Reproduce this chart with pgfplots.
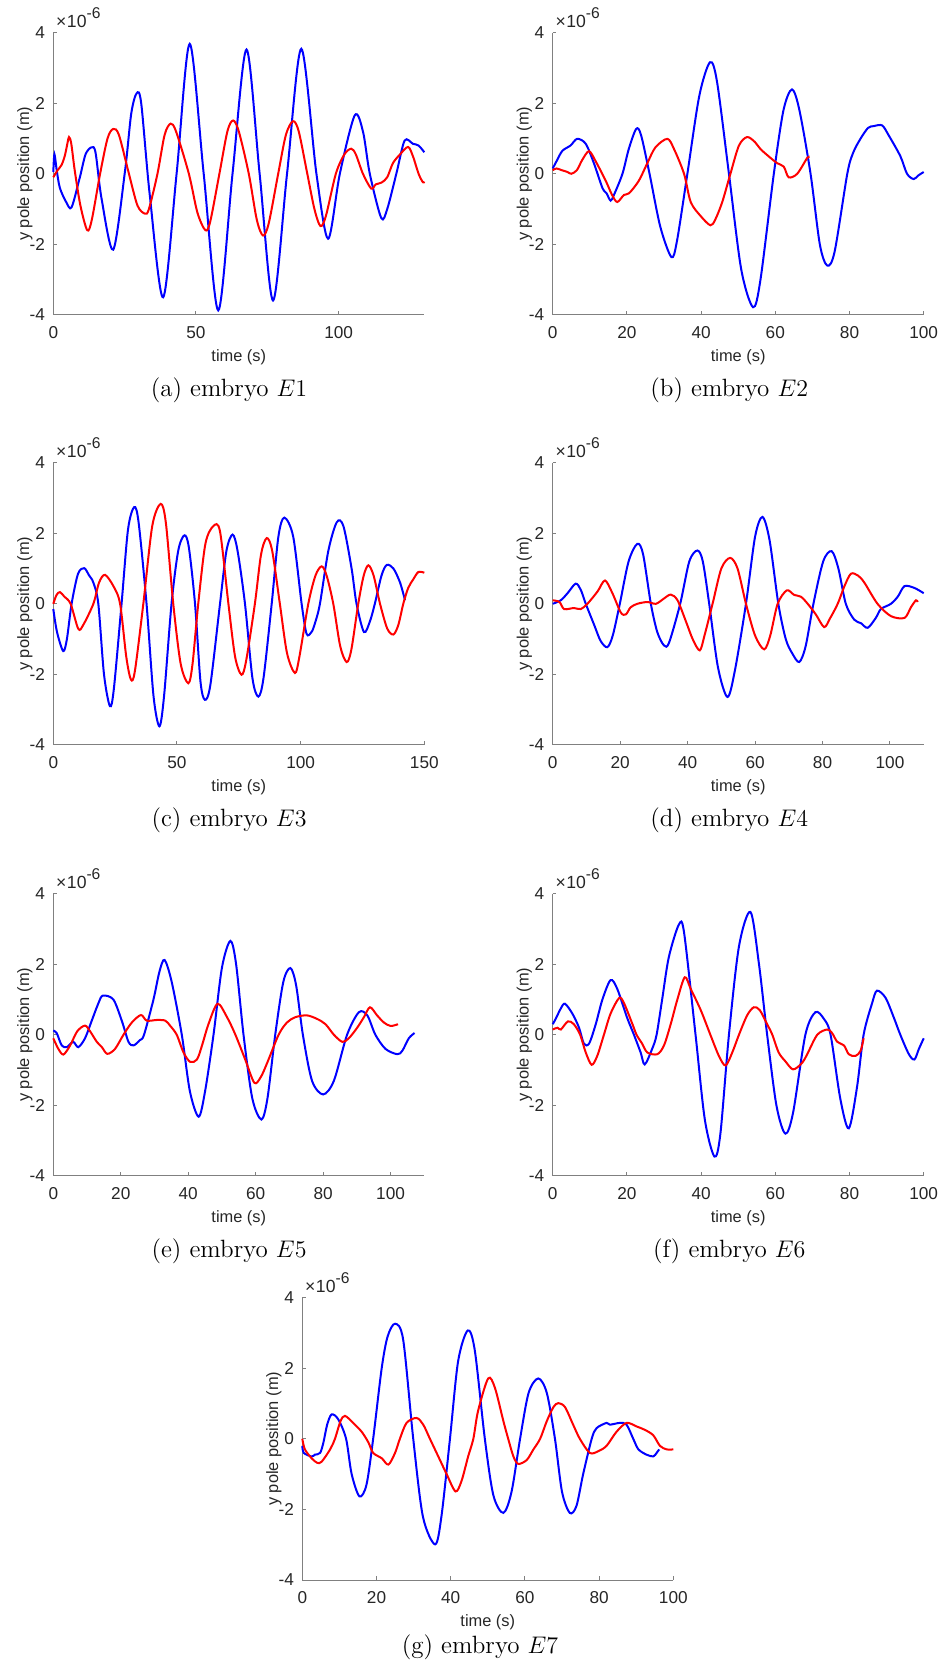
\documentclass[border=0pt]{standalone}
\usepackage{fontspec}
\newfontfamily\helv{Liberation Sans}
\usepackage{pgfplots}
\pgfplotsset{compat=1.18}

\pgfplotsset{
  panel/.style={
    scale only axis, width=185.5pt, height=141.2pt,
    axis x line=bottom, axis y line=left,
    axis line style={-, black!50, line width=0.5pt},
    xmin=0, ymin=-4, ymax=4,
    ytick={-4,-2,0,2,4}, yticklabels={-4,-2,0,2,4},
    tick align=inside,
    major tick length=1.85pt,
    minor tick num=0,
    major tick style={black!50, line width=0.5pt},
    tick label style={font=\helv\fontsize{8.6}{10}\selectfont, text=black!85},
    xticklabel style={yshift=-2.2pt},
    yticklabel style={xshift=-0.7pt},
    xlabel={time (s)}, ylabel={y pole position (m)},
    every axis x label/.style={at={(axis description cs:0.5,-0.148)}, anchor=center, font=\helv\fontsize{8.2}{10}\selectfont, text=black!85},
    every axis y label/.style={at={(axis description cs:-0.0765,0.5)}, anchor=center, rotate=90, font=\helv\fontsize{8.2}{10}\selectfont, text=black!85},
    clip=false,
    every axis plot/.append style={line width=1pt, smooth, tension=0.5},
  },
}
\newcommand{\expolabel}{\node[anchor=base west, inner sep=0pt, xshift=1.2pt, yshift=2.5pt, font=\helv\fontsize{8.8}{10}\selectfont, text=black!85] at (rel axis cs:0,1) {×\kern0.3pt10\raisebox{4.4pt}{\fontsize{7.8}{9}\selectfont -6}};}

\begin{document}
\begin{tikzpicture}
\useasboundingbox (0,0) rectangle (472pt,834pt);

% (a)
\begin{axis}[panel, at={(26.65pt,676.5pt)}, anchor=south west, xmax=130,
  xtick={0,50,100}, xticklabels={0,50,100}]
\addplot[blue] coordinates {(0,0.05) (0.4,0.55) (1.2,0.1) (2.3,-0.4) (4.5,-0.8) (6.4,-0.95) (9.3,-0.1) (11.3,0.55) (13.4,0.75) (14.8,0.6) (16.9,-0.7) (21,-2.15) (25.1,0.06) (27.3,1.7) (29.2,2.28) (30.8,2.0) (33.8,-0.6) (38.5,-3.5) (43.2,0) (47.8,3.68) (52.7,0) (57.8,-3.87) (62.8,0) (67.7,3.52) (72.3,0) (77,-3.59) (81.9,0) (86.9,3.54) (92.2,0) (96.3,-1.84) (100.4,0) (105.6,1.65) (108.5,1.2) (110.9,0) (114.9,-1.25) (117,-1.0) (120.2,0) (123.1,0.94) (126,0.85) (128,0.8) (130,0.61)};
\addplot[red] coordinates {(0,-0.1) (1.5,0.1) (2.9,0.25) (4,0.5) (4.8,0.8) (5.5,1.04) (6.3,0.85) (7.5,0.1) (9.5,-0.9) (11.9,-1.6) (13.5,-1.3) (16.4,0) (19,1.0) (21,1.27) (23,1.1) (26.5,0) (29.5,-0.9) (32.1,-1.13) (33.5,-1.0) (36.5,0) (39,1.1) (41.1,1.42) (43,1.2) (47.5,0) (50.5,-1.1) (53.3,-1.6) (55,-1.35) (58.2,0) (61,1.2) (63,1.51) (65,1.2) (68.5,0) (71.3,-1.3) (73.5,-1.75) (75.5,-1.4) (78.8,0) (81.5,1.1) (84,1.49) (86,1.2) (89,0) (91.5,-1.0) (93.6,-1.48) (95.5,-1.2) (99,0) (102,0.55) (104.4,0.71) (106,0.55) (108.5,0) (111.4,-0.42) (113,-0.3) (115,-0.25) (117,-0.1) (119,0.3) (121.5,0.55) (124.3,0.76) (126,0.5) (128,0.0) (129.5,-0.24) (130,-0.22)};
\expolabel
\end{axis}

% (b)
\begin{axis}[panel, at={(276.35pt,676.5pt)}, anchor=south west, xmax=100,
  xtick={0,20,40,60,80,100}, xticklabels={0,20,40,60,80,100}]
\addplot[blue] coordinates {(0,0.15) (1,0.35) (2.6,0.65) (4.8,0.8) (6.6,0.99) (8.9,0.85) (11.1,0.3) (13.4,-0.4) (14.5,-0.55) (15.6,-0.76) (16.5,-0.6) (18.8,0) (20.5,0.7) (22.5,1.27) (23.8,1.1) (26.1,0) (29,-1.5) (32,-2.36) (33.5,-1.9) (36.3,0) (39.5,2.2) (42.4,3.16) (44.3,2.6) (47.5,0) (50.8,-2.7) (54,-3.78) (56,-3.0) (59.6,0) (62.2,1.8) (64.5,2.39) (66.5,1.8) (69.5,0) (72,-2.0) (74,-2.6) (76,-2.2) (79.4,0) (81,0.6) (83,1.0) (85,1.3) (86.5,1.35) (88.8,1.37) (90.5,1.1) (93.7,0.5) (95.5,0) (97.3,-0.15) (98.5,-0.05) (100,0.05)};
\addplot[red] coordinates {(0,0.1) (1,0.15) (2.5,0.1) (4,0.05) (5,0.0) (6.5,0.1) (8,0.4) (9.8,0.64) (11.6,0.35) (14.3,-0.2) (16,-0.6) (17.4,-0.8) (19.2,-0.6) (20.6,-0.55) (23.2,-0.2) (25.5,0.3) (27.7,0.75) (30.9,0.99) (32.7,0.7) (35.4,0) (37.2,-0.8) (39.9,-1.2) (42.5,-1.46) (43.8,-1.3) (45.7,-0.8) (47.9,0) (50.2,0.8) (52.4,1.04) (54.5,0.9) (56,0.7) (58.7,0.45) (60.5,0.3) (62.3,0.2) (63.6,-0.1) (65.9,0.0) (68.6,0.45) (69,0.45)};
\expolabel
\end{axis}

% (c)
\begin{axis}[panel, at={(26.65pt,461.5pt)}, anchor=south west, xmax=150,
  xtick={0,50,100,150}, xticklabels={0,50,100,150}]
\addplot[blue] coordinates {(0,-0.15) (1.5,-0.8) (4,-1.34) (5.5,-1.0) (7.4,0) (10,0.85) (12.5,1.01) (14.5,0.8) (16.2,0.6) (18.2,0) (20.5,-2.0) (22.9,-2.9) (24.5,-2.4) (27.6,0) (30.2,2.1) (32.7,2.74) (34.5,2.3) (37.7,0) (40.5,-2.6) (42.9,-3.47) (44.8,-2.6) (47.8,0) (50.5,1.5) (53,1.94) (54.8,1.6) (57.3,0) (59.5,-2.2) (61.3,-2.72) (63.5,-2.3) (67.4,0) (70,1.5) (72.5,1.96) (74.5,1.5) (77.5,0) (80.5,-2.1) (82.9,-2.63) (85,-2.1) (88.3,0) (91,1.9) (93.4,2.44) (97,1.9) (100.4,0) (102.4,-0.85) (104.4,-0.8) (105.8,-0.55) (107.8,0) (111.2,1.5) (114.6,2.31) (117.3,2.2) (120.6,1.0) (122.6,0) (125.6,-0.8) (128,-0.5) (130,0) (132.7,0.8) (134.8,1.1) (137.5,1.0) (140.2,0.6) (142.2,0.1)};
\addplot[red] coordinates {(0,0) (1.3,0.25) (2.7,0.33) (4.5,0.2) (7,0) (10.1,-0.71) (12.1,-0.6) (16.2,0) (18.5,0.6) (20.9,0.82) (24.3,0.5) (27,0) (29.5,-1.5) (31.4,-2.15) (33,-1.9) (36.4,0) (40,2.2) (43.4,2.83) (45.5,2.3) (48.5,0) (51.5,-1.7) (54.6,-2.25) (56.3,-1.7) (58.6,0) (61.5,1.7) (64.7,2.2) (67.4,2.05) (70.8,0) (73.5,-1.5) (76.1,-2.01) (78,-1.6) (81.5,0) (84,1.4) (86.3,1.86) (88.5,1.5) (91.6,0) (94.5,-1.4) (97.7,-1.96) (99.5,-1.5) (103.1,0) (106,0.8) (108.5,1.06) (110.5,0.8) (113.2,0) (116,-1.2) (118.6,-1.65) (120.5,-1.3) (123.3,0) (125.5,0.8) (127.4,1.09) (129.5,0.8) (132.1,0) (135,-0.7) (137.5,-0.87) (139.5,-0.6) (141.5,0) (143.5,0.45) (145.6,0.7) (147.6,0.9) (150,0.88)};
\expolabel
\end{axis}

% (d)
\begin{axis}[panel, at={(276.35pt,461.5pt)}, anchor=south west, xmax=110,
  xtick={0,20,40,60,80,100}, xticklabels={0,20,40,60,80,100}]
\addplot[blue] coordinates {(0,0.0) (2.4,0.1) (4.4,0.3) (6.8,0.57) (8.3,0.4) (9.8,0) (12.3,-0.6) (14.2,-1.05) (16.2,-1.23) (17.8,-0.9) (19.9,0) (22.5,1.2) (25.1,1.7) (26.8,1.4) (29.1,0) (31,-0.8) (33,-1.18) (34.5,-1.1) (37.8,0) (40.5,1.2) (42.9,1.51) (44.5,1.2) (46.4,0) (49,-1.8) (51.8,-2.64) (54,-1.9) (57.3,0) (60,1.9) (62.2,2.46) (64.3,1.8) (66.9,0) (69.1,-1.0) (71,-1.4) (73.1,-1.65) (75,-1.2) (77.3,0) (80.2,1.2) (82.7,1.49) (84.7,1.0) (86.9,0) (89.4,-0.45) (91.4,-0.55) (93.4,-0.68) (95.8,-0.4) (97.3,-0.15) (100.3,0) (102.3,0.2) (104.3,0.5) (107.2,0.45) (110,0.3)};
\addplot[red] coordinates {(0,0.1) (2,0.05) (3.4,-0.15) (6.3,-0.12) (8.3,-0.15) (10.3,0) (13.3,0.35) (15.5,0.66) (17.7,0.3) (20.2,-0.25) (21.7,-0.3) (23.1,-0.1) (25.1,0) (28.1,0.05) (30.6,0) (33,0.15) (35,0.26) (37,0.1) (39.5,-0.5) (41.5,-1.0) (43.6,-1.32) (45,-0.9) (47.4,0) (50,1.0) (52.6,1.3) (54.8,1.0) (57.3,0) (60,-0.9) (62.7,-1.29) (64.5,-0.9) (66.7,0) (69.4,0.38) (71.6,0.25) (73.6,0.2) (75.6,0) (78,-0.3) (80.5,-0.66) (82.3,-0.4) (84.5,0) (86.5,0.5) (88.4,0.85) (90.5,0.8) (92.4,0.6) (96.3,0) (100.3,-0.35) (104.3,-0.4) (106.2,-0.1) (107.7,0.1) (108.2,0.05)};
\expolabel
\end{axis}

% (e)
\begin{axis}[panel, at={(26.65pt,246pt)}, anchor=south west, xmax=110,
  xtick={0,20,40,60,80,100}, xticklabels={0,20,40,60,80,100}]
\addplot[blue] coordinates {(0,0.12) (1,0.05) (2.5,-0.3) (4,-0.35) (5.9,-0.2) (7.4,-0.35) (9.4,-0.1) (11.4,0.4) (13.4,0.9) (14.7,1.11) (17.8,1.0) (20.3,0.4) (22.3,-0.2) (23.8,-0.3) (25.7,-0.15) (26.9,0) (29.7,1.0) (31.5,1.8) (33,2.12) (35.1,1.5) (38.1,0) (40.5,-1.6) (43.1,-2.32) (45,-1.6) (47.5,0) (50,1.9) (52.5,2.66) (54.2,2.0) (56.4,0) (59,-1.8) (61.7,-2.4) (63.5,-1.8) (65.8,0) (68.2,1.5) (70.3,1.89) (72,1.4) (74,0) (76.7,-1.3) (80,-1.69) (83.2,-1.3) (87.1,0) (90.6,0.64) (93.1,0.55) (95.5,0) (98.5,-0.4) (102,-0.55) (103.5,-0.45) (105.4,-0.1) (107.1,0.05)};
\addplot[red] coordinates {(0,-0.1) (1.5,-0.4) (3,-0.56) (5,-0.3) (7.1,0.1) (9.4,0.26) (10.9,0.1) (12.9,-0.2) (14.4,-0.35) (16,-0.54) (18.3,-0.4) (20.8,0) (23.3,0.35) (26,0.56) (27.7,0.4) (30.7,0.42) (33.2,0.4) (34.7,0.25) (36.6,0) (38.6,-0.5) (40.6,-0.77) (42.6,-0.7) (44.1,-0.3) (46,0.3) (48.7,0.88) (51.5,0.5) (54,0) (56.9,-0.7) (59.6,-1.36) (61.5,-1.2) (63.4,-0.8) (66.8,0) (69.3,0.35) (71.8,0.5) (75.2,0.55) (78.2,0.45) (80.7,0.3) (83.2,0) (85.7,-0.2) (87.6,-0.1) (90.1,0.2) (92.1,0.5) (93.9,0.78) (96,0.55) (98,0.35) (100,0.25) (102.2,0.3)};
\expolabel
\end{axis}

% (f)
\begin{axis}[panel, at={(276.35pt,246pt)}, anchor=south west, xmax=100,
  xtick={0,20,40,60,80,100}, xticklabels={0,20,40,60,80,100}]
\addplot[blue] coordinates {(0,0.3) (0.8,0.45) (2.2,0.75) (3.3,0.88) (5.3,0.6) (7.1,0.2) (8.4,-0.25) (9.8,-0.25) (11.6,0.3) (13.4,1.0) (15.6,1.55) (17.4,1.3) (20,0.5) (21.9,0) (23.7,-0.5) (24.8,-0.84) (26.8,-0.4) (28,0) (29.5,1.0) (31.3,2.2) (34,3.12) (35.4,2.9) (38.5,0) (41,-2.4) (43.6,-3.45) (45.2,-2.8) (47.5,0) (50.2,2.5) (53.3,3.48) (55.6,2.0) (57.8,0) (60.3,-2.0) (62.7,-2.8) (64.8,-2.2) (68.1,0) (70.8,0.64) (73.1,0.45) (74.9,0) (77.5,-1.8) (79.8,-2.65) (82,-1.5) (83.8,0) (86.1,0.9) (87.4,1.25) (89.7,1.05) (91.9,0.5) (93.7,0) (96,-0.55) (97.5,-0.7) (98.7,-0.4) (100,-0.1)};
\addplot[red] coordinates {(0,0.15) (1.3,0.2) (2.2,0.15) (4.1,0.38) (5.7,0.3) (7.4,0) (8.9,-0.5) (10.5,-0.85) (12,-0.6) (13.8,0) (15.6,0.6) (17.9,1.04) (19.2,0.9) (21.5,0.3) (22.6,0) (24.1,-0.25) (25.5,-0.5) (28.2,-0.55) (30,-0.3) (31.8,0.3) (33.6,1.0) (35.6,1.63) (37.2,1.3) (39.9,0.7) (42.5,0) (44.8,-0.6) (46.6,-0.87) (48.4,-0.5) (50.2,0) (52.4,0.55) (54.2,0.78) (55.8,0.7) (57.8,0.3) (59.2,0) (60.9,-0.5) (62.7,-0.75) (64.8,-0.98) (67.2,-0.8) (68.6,-0.55) (71.3,0) (74,0.15) (75.3,0.05) (76.7,-0.2) (78.5,-0.3) (79.8,-0.55) (81.6,-0.6) (83,-0.45) (83.8,-0.1)};
\expolabel
\end{axis}

% (g)
\begin{axis}[panel, at={(151.15pt,44pt)}, anchor=south west, xmax=100,
  xtick={0,20,40,60,80,100}, xticklabels={0,20,40,60,80,100}]
\addplot[blue] coordinates {(0,-0.2) (0.4,-0.4) (2.5,-0.5) (3.4,-0.45) (4.8,-0.4) (5.7,-0.1) (6.7,0.4) (7.9,0.69) (9.7,0.55) (11.8,0) (13.3,-1.0) (15.4,-1.63) (17.3,-1.3) (19.1,0) (21.4,2.0) (23,2.9) (25,3.26) (27.2,2.8) (29.9,0) (32.5,-2.2) (35.8,-2.99) (37.5,-2.2) (39.8,0) (42,2.2) (44.6,3.07) (46.5,2.5) (49.2,0) (51.5,-1.6) (54.2,-2.1) (56.4,-1.5) (58.7,0) (61,1.3) (63.6,1.71) (65.9,1.3) (68.1,0) (70,-1.5) (72.1,-2.1) (73.9,-1.9) (75.7,-1.0) (78,0) (79.3,0.3) (82,0.45) (82.9,0.4) (85.6,0.45) (87.4,0.4) (89.2,0) (90.6,-0.3) (92.8,-0.45) (94.6,-0.5) (95.5,-0.4) (96.2,-0.3)};
\addplot[red] coordinates {(0,0) (0.7,-0.3) (2.5,-0.55) (4,-0.68) (5.2,-0.65) (7.5,-0.3) (8.8,0) (10.3,0.5) (11.5,0.65) (13.7,0.45) (16,0.2) (17.8,-0.1) (19.1,-0.4) (21.4,-0.55) (23.2,-0.73) (25,-0.4) (26.3,0) (28.1,0.45) (30.8,0.59) (32.6,0.4) (34.4,0) (37.1,-0.6) (38.9,-1.0) (41.3,-1.49) (42.9,-1.2) (44.7,-0.5) (46.1,0) (47.4,0.8) (50.1,1.71) (51.9,1.45) (54.2,0.5) (55.5,0) (56.9,-0.5) (58.2,-0.71) (60.5,-0.6) (62.3,-0.3) (64.1,0) (65.9,0.5) (67.7,0.9) (69,1.01) (70.8,0.9) (73,0.4) (74.8,0) (77.5,-0.4) (79.8,-0.35) (82,-0.2) (84.7,0.2) (87.4,0.45) (90.1,0.35) (92.4,0.25) (94.6,0.1) (96.4,-0.2) (98.2,-0.3) (100,-0.3)};
\expolabel
\end{axis}

% captions
\begin{scope}[every node/.style={anchor=base, inner sep=0pt, font=\fontsize{12.5}{15}\selectfont}]
\node at (114.5pt,635.65pt) {(a) embryo $E1$};
\node at (364.65pt,635.65pt) {(b) embryo $E2$};
\node at (114.5pt,420.65pt) {(c) embryo $E3$};
\node at (364.65pt,420.65pt) {(d) embryo $E4$};
\node at (114.5pt,205.15pt) {(e) embryo $E5$};
\node at (364.65pt,205.15pt) {(f) embryo $E6$};
\node at (240pt,7.35pt) {(g) embryo $E7$};
\end{scope}
\end{tikzpicture}
\end{document}
